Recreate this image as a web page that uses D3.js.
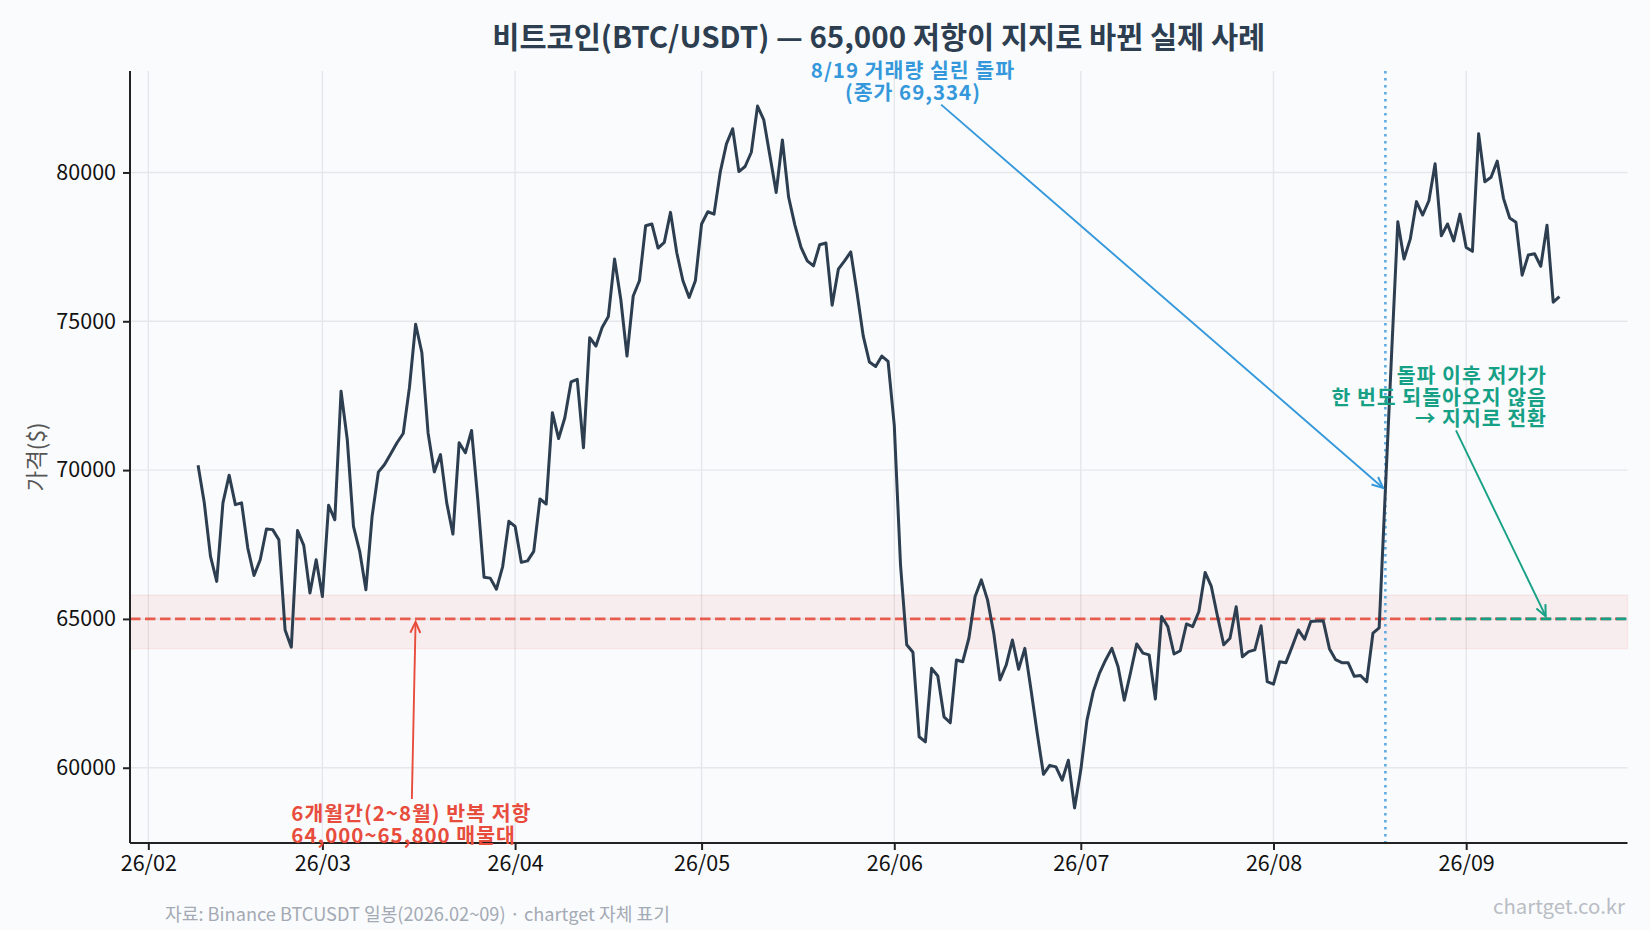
<!DOCTYPE html>
<html><head><meta charset="utf-8">
<script src="https://cdn.jsdelivr.net/npm/d3@7"></script>
<style>
html,body{margin:0;padding:0;background:#fafbfd;}
svg{display:block;}
text{font-family:"Noto Sans CJK KR","Noto Sans",sans-serif;}
</style></head><body>
<svg id="chart" width="1650" height="930"></svg>
<script>
// ---------------- data ----------------
const startDate = "2026-02-09";   // first daily close
const closes = [
70160,68900,67100,66260,68900,69830,68840,68900,67380,66460,
66990,68020,68000,67660,64630,64050,67970,67470,65870,66990,
65750,68820,68330,72650,71030,68110,67270,65980,68450,69930,
70190,70550,70920,71230,72770,74900,73950,71250,69940,70520,
68900,67850,70920,70580,71330,69010,66400,66370,66000,66760,
68280,68110,66900,66950,67270,69030,68860,71930,71060,71760,
72960,73050,70750,74450,74170,74790,75160,77090,75740,73830,
75850,76360,78210,78270,77460,77650,78660,77310,76360,75800,
76360,78270,78680,78600,80010,80960,81470,80030,80200,80680,
82230,81770,80550,79330,81090,79170,78240,77480,77030,76860,
77570,77630,75540,76750,77030,77330,75970,74510,73630,73480,
73830,73650,71500,66820,64130,63880,61040,60870,63340,63080,
61710,61510,63620,63560,64350,65750,66310,65640,64520,62950,
63450,64290,63310,64010,62610,61150,59780,60080,60030,59580,
60250,58650,59920,61600,62550,63170,63620,64010,63390,62270,
63190,64160,63850,63790,62310,65080,64740,63820,63930,64830,
64740,65250,66560,66090,65080,64130,64350,65410,63730,63900,
63960,64770,62890,62810,63560,63530,64070,64630,64320,64910,
64930,64940,64000,63630,63530,63530,63070,63100,62890,64520,
64700,69334,73900,78340,77090,77760,79020,78570,79050,80290,
77870,78270,77700,78600,77480,77350,81300,79690,79840,80380,
79130,78470,78330,76550,77230,77270,76850,78230,75640,75830
];
const yTickValues = [60000, 65000, 70000, 75000, 80000];
const xTickStart = "2026-02-01", xTickEnd = "2026-10-01";
const resistance = 65000;
const zone = [64000, 65800];
const breakoutDate = "2026-08-19", breakoutClose = 69334;
const supportFrom = "2026-08-26";

const titleText = "비트코인(BTC/USDT) — 65,000 저항이 지지로 바뀐 실제 사례";
const yLabel = "가격($)";
const blueNote = ["8/19 거래량 실린 돌파", "(종가 69,334)"];
const blueNoteAt = ["2026-06-04", 83100];
const greenNote = ["돌파 이후 저가가", "한 번도 되돌아오지 않음", "→ 지지로 전환"];
const greenNoteAt = ["2026-09-14", 72500];
const greenTarget = ["2026-09-14", 65000];
const redNote = ["6개월간(2~8월) 반복 저항", "64,000~65,800 매물대"];
const redNoteAt = ["2026-02-24", 58150];
const redTarget = ["2026-03-16", 65000];
const footnote = "자료: Binance BTCUSDT 일봉(2026.02~09) · chartget 자체 표기";
const watermark = "chartget.co.kr";

// ---------------- setup ----------------
const W = 1650, H = 930;
const M = {left:130, right:1627.5, top:71, bottom:843};
const svg = d3.select("#chart");
const parse = d3.utcParse("%Y-%m-%d");
const t0 = parse(startDate);
const data = closes.map((v,i)=>({date:d3.utcDay.offset(t0,i), v}));

const dExt = d3.extent(data, d=>+d.date);
const dPad = (dExt[1]-dExt[0])*0.05;
const x = d3.scaleUtc().domain([new Date(dExt[0]-dPad), new Date(dExt[1]+dPad)]).range([M.left, M.right]);
const vExt = d3.extent(closes);
const vPad = (vExt[1]-vExt[0])*0.05;
const y = d3.scaleLinear().domain([vExt[0]-vPad, vExt[1]+vPad]).range([M.bottom, M.top]);

svg.append("rect").attr("width",W).attr("height",H).attr("fill","#fafbfd");

const defs = svg.append("defs");
function marker(id, color){
  defs.append("marker").attr("id",id).attr("viewBox","-14 -8 16 16")
    .attr("markerUnits","userSpaceOnUse").attr("markerWidth",16).attr("markerHeight",16)
    .attr("refX",0).attr("refY",0).attr("orient","auto")
    .append("path").attr("d","M-11,-5 L0,0 L-11,5").attr("fill","none")
    .attr("stroke",color).attr("stroke-width",2).attr("stroke-linejoin","miter");
}
marker("arB","#3498db"); marker("arG","#16a085"); marker("arR","#e74c3c");

// grid
const monthTicks = d3.utcMonth.range(parse(xTickStart), parse(xTickEnd));
const grid = svg.append("g");
grid.selectAll(".gy").data(yTickValues).join("line")
  .attr("x1",M.left).attr("x2",M.right).attr("y1",d=>y(d)).attr("y2",d=>y(d))
  .attr("stroke","#e6e7ea").attr("stroke-width",1.4);
grid.selectAll(".gx").data(monthTicks).join("line")
  .attr("x1",d=>x(d)).attr("x2",d=>x(d)).attr("y1",M.top).attr("y2",M.bottom)
  .attr("stroke","#e6e7ea").attr("stroke-width",1.4);

// resistance zone
svg.append("rect").attr("x",M.left).attr("width",M.right-M.left)
  .attr("y",y(zone[1])).attr("height",y(zone[0])-y(zone[1]))
  .attr("fill","#e74c3c").attr("fill-opacity",0.08)
  .attr("stroke","#e74c3c").attr("stroke-opacity",0.08).attr("stroke-width",1.5);
svg.append("line").attr("x1",M.left).attr("x2",M.right).attr("y1",y(resistance)).attr("y2",y(resistance))
  .attr("stroke","#e74c3c").attr("stroke-opacity",0.9).attr("stroke-width",2.7).attr("stroke-dasharray","10.5,4.5");
// green support
svg.append("line").attr("x1",x(parse(supportFrom))).attr("x2",M.right).attr("y1",y(resistance)).attr("y2",y(resistance))
  .attr("stroke","#16a085").attr("stroke-width",2.7).attr("stroke-dasharray","10.5,4.5").attr("stroke-dashoffset",-7);
// breakout vline
svg.append("line").attr("x1",x(parse(breakoutDate))).attr("x2",x(parse(breakoutDate))).attr("y1",M.top).attr("y2",M.bottom)
  .attr("stroke","#3498db").attr("stroke-opacity",0.8).attr("stroke-width",2.6).attr("stroke-dasharray","2.6,4.4");

// price line
svg.append("path").datum(data)
  .attr("d", d3.line().x(d=>x(d.date)).y(d=>y(d.v)))
  .attr("fill","none").attr("stroke","#2c3e50").attr("stroke-width",3).attr("stroke-linejoin","round");

// axes
const yAxis = svg.append("g").attr("transform",`translate(${M.left},0)`)
  .call(d3.axisLeft(y).tickValues(yTickValues).tickFormat(d3.format("d")).tickSize(7).tickPadding(7));
const xAxis = svg.append("g").attr("transform",`translate(0,${M.bottom})`)
  .call(d3.axisBottom(x).tickValues(monthTicks).tickFormat(d3.utcFormat("%y/%m")).tickSize(7).tickPadding(6));
[yAxis,xAxis].forEach(a=>{
  a.select(".domain").attr("stroke","#222").attr("stroke-width",2);
  a.selectAll(".tick line").attr("stroke","#222").attr("stroke-width",2);
  a.selectAll(".tick text").attr("fill","#111").style("font-size","21.5px")
   .style("font-family",'"Noto Sans CJK KR","Noto Sans",sans-serif');
});
yAxis.select(".domain").attr("d",`M0,${M.top}V${M.bottom}`);
xAxis.select(".domain").attr("d",`M${M.left},0H${M.right}`);

// title
svg.append("text").attr("x",(M.left+M.right)/2).attr("y",35).attr("text-anchor","middle")
  .attr("dominant-baseline","central").attr("fill","#2c3e50").attr("font-weight","bold")
  .style("font-size","29.5px").text(titleText);
// y label
svg.append("text").attr("transform",`translate(35,${(M.top+M.bottom)/2}) rotate(-90)`)
  .attr("text-anchor","middle").attr("dominant-baseline","central")
  .attr("fill","#555").style("font-size","22.5px").text(yLabel);

// notes (one text element, one tspan per line)
function note(lines, at, anchor, color, lh){
  const cx = x(parse(at[0])), cy = y(at[1]);
  const n = lines.length;
  const t = svg.append("text").attr("text-anchor",anchor)
     .attr("fill",color).attr("font-weight","bold").style("font-size","20.5px")
     .style("letter-spacing","1px");
  lines.forEach((s,i)=>{
    t.append("tspan").attr("x",cx).attr("y",cy+(i-(n-1)/2)*lh + 9).text(s);
  });
  return t.node().getBBox();
}
function arrow(bb, target, color, id){
  const cx = bb.x+bb.width/2, cy = bb.y+bb.height/2;
  const tx = x(parse(target[0])), ty = y(target[1]);
  const dx = tx-cx, dy = ty-cy, len = Math.hypot(dx,dy);
  let te = Infinity;
  if (dx) te = Math.min(te,(bb.width/2)/Math.abs(dx));
  if (dy) te = Math.min(te,(bb.height/2)/Math.abs(dy));
  const a = te - 2/len, b = 1 - 3/len;
  svg.append("line").attr("x1",cx+dx*a).attr("y1",cy+dy*a).attr("x2",cx+dx*b).attr("y2",cy+dy*b)
    .attr("stroke",color).attr("stroke-width",1.9).attr("marker-end",`url(#${id})`);
}
const bbB = note(blueNote, blueNoteAt, "middle", "#3498db", 21.5);
arrow(bbB, [breakoutDate, breakoutClose], "#3498db", "arB");
const bbG = note(greenNote, greenNoteAt, "end", "#16a085", 21.5);
arrow(bbG, greenTarget, "#16a085", "arG");
const bbR = note(redNote, redNoteAt, "start", "#e74c3c", 21.5);
arrow(bbR, redTarget, "#e74c3c", "arR");

// footnote & watermark
svg.append("text").attr("x",165).attr("y",913).attr("dominant-baseline","central")
  .attr("fill","#a3aab4").style("font-size","18.2px").text(footnote);
svg.append("text").attr("x",1625).attr("y",905).attr("text-anchor","end").attr("dominant-baseline","central")
  .attr("fill","#b9bdc4").style("font-size","20.4px").text(watermark);
</script>
</body></html>
